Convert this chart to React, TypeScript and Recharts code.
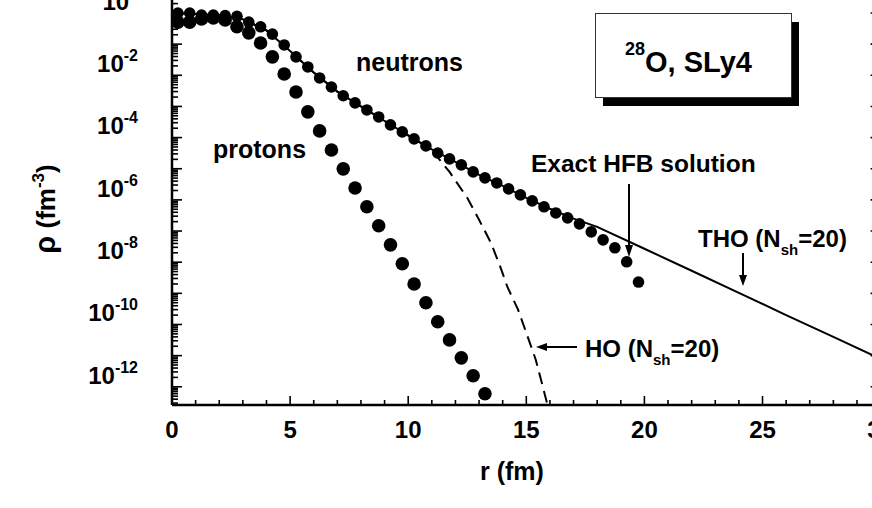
import React from 'react';
import { ComposedChart, Line, XAxis, YAxis } from 'recharts';

// r grid of the exact HFB points (fm)
const neutronR = [
  0.25, 0.75, 1.25, 1.75, 2.25, 2.75, 3.25, 3.75, 4.25, 4.75,
  5.25, 5.75, 6.25, 6.75, 7.25, 7.75, 8.25, 8.75, 9.25, 9.75,
  10.25, 10.75, 11.25, 11.75, 12.25, 12.75, 13.25, 13.75, 14.25, 14.75,
  15.25, 15.75, 16.25, 16.75, 17.25, 17.75, 18.25, 18.75, 19.25, 19.75,
];
const neutronRho = [
  1.0e-1, 1.0e-1, 8.6e-2, 8.6e-2, 8.2e-2, 7.8e-2, 5.1e-2, 3.6e-2, 2.1e-2, 9.4e-3,
  3.9e-3, 1.85e-3, 8.2e-4, 4.2e-4, 2.2e-4, 1.3e-4, 7.7e-5, 4.6e-5, 2.55e-5, 1.52e-5,
  9.1e-6, 5.4e-6, 3.2e-6, 2.07e-6, 1.33e-6, 7.9e-7, 5.1e-7, 3.5e-7, 2.26e-7, 1.45e-7,
  9.3e-8, 6.0e-8, 3.8e-8, 2.65e-8, 1.7e-8, 9.4e-9, 5.2e-9, 2.9e-9, 1.03e-9, 2.3e-10,
];

const protonR = [
  0.25, 0.75, 1.25, 1.75, 2.25, 2.75, 3.25, 3.75, 4.25, 4.75,
  5.25, 5.75, 6.25, 6.75, 7.25, 7.75, 8.25, 8.75, 9.25, 9.75,
  10.25, 10.75, 11.25, 11.75, 12.25, 12.75, 13.25,
];
const protonRho = [
  5.1e-2, 5.1e-2, 6.4e-2, 6.9e-2, 6.0e-2, 3.6e-2, 2.3e-2, 1.09e-2, 3.9e-3, 1.1e-3,
  2.9e-4, 6.7e-5, 1.64e-5, 4.0e-6, 9.9e-7, 2.4e-7, 6.0e-8, 1.47e-8, 3.6e-9, 8.9e-10,
  2.0e-10, 5.0e-11, 1.22e-11, 3.2e-12, 8.5e-13, 2.26e-13, 6.0e-14,
];

// HO basis (N_sh=20), dashed
const hoR = [0, 1, 2, 3, 4, 5, 6, 7, 8, 9, 10, 11, 11.75, 12.5, 13, 13.5, 13.9, 14.2, 14.65, 15, 15.4, 15.7, 16];
const hoRho = [
  1.0e-1, 9.3e-2, 8.4e-2, 6.3e-2, 2.75e-2, 6.0e-3, 1.23e-3, 3.0e-4, 1.0e-4, 3.4e-5,
  1.18e-5, 4.0e-6, 7.9e-7, 1.16e-7, 2.3e-8, 4.2e-9, 7.1e-10, 1.6e-10, 3.0e-11, 5.4e-12,
  7.4e-13, 1.0e-13, 1.3e-14,
];

// THO basis (N_sh=20), solid
const thoR = [0, 1, 2, 3, 4, 5, 6, 7, 8, 9, 10, 11, 12, 13, 14, 15, 16, 17, 18, 20, 22, 24, 26, 28, 30];
const thoRho = [
  1.0e-1, 9.3e-2, 8.4e-2, 6.3e-2, 2.75e-2, 6.0e-3, 1.23e-3, 3.0e-4, 1.0e-4, 3.4e-5,
  1.18e-5, 4.2e-6, 1.65e-6, 6.3e-7, 2.8e-7, 1.16e-7, 5.2e-8, 2.5e-8, 1.36e-8, 2.7e-9,
  5.3e-10, 1.04e-10, 2.0e-11, 4.0e-12, 7.9e-13,
];

const xTicks = Array.from({ length: 31 }, (_, i) => i);
const xLabels = [0, 5, 10, 15, 20, 25, 30];
const yLabelExps = [0, -2, -4, -6, -8, -10, -12];
const yDomain = [2.6e-14, 1];

const yTicks: number[] = [];
for (let e = 0; e >= -14; e--) {
  for (let k = 1; k <= 9; k++) {
    const v = k * Math.pow(10, e);
    if (v >= yDomain[0] && v <= yDomain[1]) yTicks.push(v);
  }
}

const rows = (rs: number[], vals: number[]) => rs.map((r, i) => ({ r, rho: vals[i] }));

const FONT = '"Liberation Sans", Arial, Helvetica, sans-serif';

const isMajor = (v: number) => {
  const e = Math.log10(v);
  return Math.abs(e - Math.round(e)) < 1e-6;
};

const LeftTick = (props: any) => {
  const { x, y, payload } = props;
  const v = payload.value;
  const major = isMajor(v);
  const exp = Math.round(Math.log10(v));
  const showLabel = major && yLabelExps.includes(exp);
  return (
    <g>
      <line x1={x} x2={x + (major ? 10 : 6)} y1={y} y2={y} stroke="#000" strokeWidth={1.6} />
      {showLabel && (
        <text x={x - 34} y={y + 28} textAnchor="end" fontFamily={FONT} fontWeight="bold" fontSize={24} fill="#000">
          10
          <tspan dy={-11} fontSize={16}>{String(exp)}</tspan>
        </text>
      )}
    </g>
  );
};

const RightTick = (props: any) => {
  const { x, y, payload } = props;
  const major = isMajor(payload.value);
  return <line x1={x} x2={x - (major ? 10 : 6)} y1={y} y2={y} stroke="#000" strokeWidth={1.6} />;
};

const BottomTick = (props: any) => {
  const { x, y, payload } = props;
  const v = payload.value;
  const major = xLabels.includes(v);
  return (
    <g>
      <line x1={x} x2={x} y1={y} y2={y - (major ? 9 : 5)} stroke="#000" strokeWidth={1.6} />
      {major && (
        <text x={x} y={y + 33} textAnchor="middle" fontFamily={FONT} fontWeight="bold" fontSize={24} fill="#000">
          {v}
        </text>
      )}
    </g>
  );
};

const txt = { fontFamily: FONT, fontWeight: 'bold' as const, fill: '#000' };

export default function App() {
  return (
    <div style={{ position: 'absolute', left: 0, top: 0, width: 872, height: 508, overflow: 'hidden', background: '#fff' }}>
      <div style={{ position: 'absolute', left: 0, top: -40 }}>
        <ComposedChart width={920} height={530} margin={{ top: 21.83, right: 19.4, bottom: 0, left: 72 }}>
          <XAxis
            dataKey="r"
            type="number"
            domain={[0, 30]}
            ticks={xTicks}
            interval={0}
            allowDataOverflow
            height={85}
            tickSize={0}
            tickMargin={0}
            tickLine={false}
            axisLine={{ stroke: '#000', strokeWidth: 2.5 }}
            tick={<BottomTick />}
          />
          <YAxis
            yAxisId="l"
            dataKey="rho"
            type="number"
            scale="log"
            domain={yDomain}
            ticks={yTicks}
            interval={0}
            allowDataOverflow
            width={100}
            tickSize={0}
            tickMargin={0}
            tickLine={false}
            axisLine={{ stroke: '#000', strokeWidth: 2.5 }}
            tick={<LeftTick />}
          />
          <YAxis
            yAxisId="r"
            orientation="right"
            type="number"
            scale="log"
            domain={yDomain}
            ticks={yTicks}
            interval={0}
            allowDataOverflow
            width={20}
            tickSize={0}
            tickMargin={0}
            tickLine={false}
            axisLine={{ stroke: '#000', strokeWidth: 2.5 }}
            tick={<RightTick />}
          />
          <Line
            yAxisId="l"
            data={rows(thoR, thoRho)}
            dataKey="rho"
            type="linear"
            stroke="#000"
            strokeWidth={2}
            dot={false}
            activeDot={false}
            isAnimationActive={false}
          />
          <Line
            yAxisId="l"
            data={rows(hoR, hoRho)}
            dataKey="rho"
            type="linear"
            stroke="#000"
            strokeWidth={2}
            strokeDasharray="12 7"
            dot={false}
            activeDot={false}
            isAnimationActive={false}
          />
          <Line
            yAxisId="l"
            data={rows(neutronR, neutronRho)}
            dataKey="rho"
            stroke="none"
            dot={{ r: 5.8, fill: '#000', stroke: 'none' }}
            activeDot={false}
            isAnimationActive={false}
          />
          <Line
            yAxisId="l"
            data={rows(protonR, protonRho)}
            dataKey="rho"
            stroke="none"
            dot={{ r: 6.8, fill: '#000', stroke: 'none' }}
            activeDot={false}
            isAnimationActive={false}
          />
        </ComposedChart>
      </div>
      <svg width={872} height={508} style={{ position: 'absolute', left: 0, top: 0, pointerEvents: 'none' }}>
        <text transform="rotate(-90)" x={-209} y={55} textAnchor="middle" fontSize={26} {...txt}>
          <tspan fontSize={29}>ρ</tspan> (fm
          <tspan dy={-11} fontSize={17}>-3</tspan>
          <tspan dy={11}>)</tspan>
        </text>
        <text x={512} y={480} textAnchor="middle" fontSize={25} {...txt}>r (fm)</text>

        <text x={356} y={71} fontSize={25} {...txt}>neutrons</text>
        <text x={213} y={158} fontSize={25} {...txt}>protons</text>
        <text x={531} y={172} fontSize={24.5} {...txt}>Exact HFB solution</text>
        <text x={698} y={247} fontSize={24} {...txt}>
          THO (N<tspan dy={8} fontSize={15}>sh</tspan>
          <tspan dy={-8}>=20)</tspan>
        </text>
        <text x={585} y={357} fontSize={24} {...txt}>
          HO (N<tspan dy={8} fontSize={15}>sh</tspan>
          <tspan dy={-8}>=20)</tspan>
        </text>

        <line x1={629} y1={184} x2={629} y2={247} stroke="#000" strokeWidth={2} />
        <polygon points="625,245 633,245 629,257" fill="#000" />
        <line x1={743} y1={253} x2={743} y2={277} stroke="#000" strokeWidth={2} />
        <polygon points="739,275 747,275 743,286" fill="#000" />
        <line x1={577} y1={347} x2={545} y2={347} stroke="#000" strokeWidth={2} />
        <polygon points="547,343 547,351 536,347" fill="#000" />

        <rect x={603} y={22} width={196} height={84} fill="#000" />
        <rect x={595.5} y={13.5} width={196} height={84} fill="#fff" stroke="#333" strokeWidth={1} />
        <text x={625} y={55} fontSize={18} {...txt}>28</text>
        <text x={645} y={72} fontSize={29} {...txt}>O, SLy4</text>
      </svg>
    </div>
  );
}
